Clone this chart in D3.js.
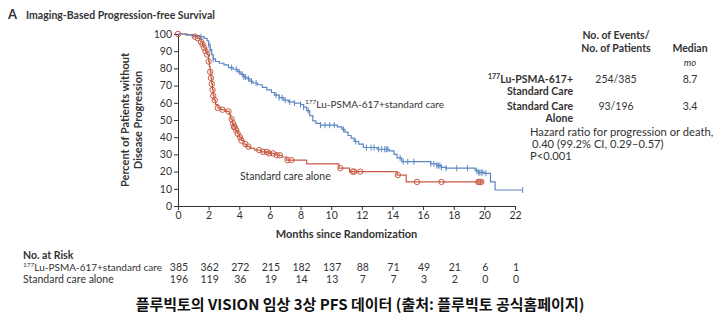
<!DOCTYPE html>
<html>
<head>
<meta charset="utf-8">
<script src="https://cdn.jsdelivr.net/npm/d3@7"></script>
<style>
  html, body { margin: 0; padding: 0; background: #fff; }
  svg { display: block; font-family: Lato, "Noto Sans", sans-serif; }
</style>
</head>
<body>
<div id="chart"></div>
<script>
// Kaplan-Meier step points: time (months) and survival (%)
const luTimes = [0, 0.5, 1.0, 1.4, 1.7, 1.9, 2.0, 2.1, 2.2, 2.3, 2.45, 2.7, 3.0, 3.3, 3.6, 3.9, 4.1, 4.3, 4.5, 4.7, 4.9, 5.2, 5.5, 5.8, 6.1, 6.3, 6.6, 6.9, 7.2, 7.6, 8.0, 8.2, 8.4, 8.6, 8.8, 9.0, 9.3, 10.4, 10.7, 10.9, 11.1, 11.3, 11.5, 11.8, 12.1, 13.0, 13.8, 14.1, 14.3, 14.6, 16.5, 16.9, 17.2, 17.5, 19.4, 19.6, 20.0, 20.4, 20.7, 22.5];
const luSurv  = [100, 99.5, 99, 98.5, 97.5, 96, 94, 91, 88, 85.5, 84, 83, 82, 80.5, 79.5, 78, 76.5, 75, 74, 72.5, 71.5, 70.5, 69, 67.5, 66, 64.5, 63, 61.5, 60.5, 59.8, 59, 57.5, 55.5, 52.5, 49.5, 48, 47, 46, 44.5, 43, 41, 39.5, 37.5, 36, 34, 33, 32, 30, 28, 25.8, 24.5, 23.5, 22.5, 22, 20.5, 19.5, 19, 14, 9.3, 9.3];
const luCensor = [1.5, 2.0, 2.1, 2.3, 3.5, 3.8, 4.0, 4.2, 4.3, 4.4, 4.6, 4.8, 5.1, 6.4, 6.6, 6.8, 7.0, 7.3, 7.6, 8.0, 8.2, 8.5, 9.3, 9.6, 9.9, 10.2, 10.8, 11.6, 12.3, 12.6, 12.8, 13.1, 13.3, 13.5, 13.6, 13.7, 14.5, 14.7, 15.0, 15.4, 16.5, 16.7, 16.9, 17.0, 17.1, 17.2, 17.5, 18.2, 18.9, 19.5, 19.6, 19.7, 19.8, 19.9, 20.1, 22.5];

const scTimes = [0, 0.6, 1.0, 1.3, 1.5, 1.6, 1.7, 1.8, 1.9, 2.0, 2.05, 2.1, 2.15, 2.2, 2.25, 2.3, 2.35, 2.45, 2.6, 2.8, 3.1, 3.35, 3.45, 3.55, 3.65, 3.75, 3.9, 4.0, 4.15, 4.3, 4.45, 4.7, 5.0, 5.4, 5.9, 6.4, 6.8, 7.1, 8.4, 10.5, 11.2, 14.3, 14.9, 19.9];
const scSurv  = [100, 99.5, 98.5, 97.5, 95.5, 94, 92, 90, 88, 84, 81, 78, 74.5, 71, 67.5, 64, 61.5, 59, 57, 56, 55, 53, 50.5, 48, 46, 44, 42, 40, 38, 36, 34.5, 33.5, 32.5, 31.5, 30.6, 29.5, 28.5, 26.7, 24.5, 22, 20, 18, 14, 14];
const scCensor = [0, 1.1, 1.3, 1.5, 1.6, 1.7, 1.8, 1.9, 2.0, 2.1, 2.15, 2.2, 2.25, 2.3, 2.4, 2.6, 2.9, 3.3, 3.5, 3.6, 3.65, 3.7, 3.8, 3.9, 4.05, 4.15, 4.4, 4.6, 5.3, 5.55, 5.8, 5.95, 6.2, 6.45, 6.65, 7.15, 7.4, 10.6, 11.4, 11.5, 11.9, 14.35, 15.6, 17.2, 19.6, 19.7, 19.8];

// Axis ticks and numbers at risk
const monthTicks = [0, 2, 4, 6, 8, 10, 12, 14, 16, 18, 20, 22];
const pctTicks = [0, 10, 20, 30, 40, 50, 60, 70, 80, 90, 100];
const riskLu = [385, 362, 272, 215, 182, 137, 88, 71, 49, 21, 6, 1];
const riskSc = [196, 119, 36, 19, 14, 13, 7, 7, 3, 2, 0, 0];

const blue = "#5b86c4";
const red = "#c85a43";
const ink = "#333";

const width = 720, height = 321;
const svg = d3.select("#chart").append("svg")
  .attr("width", width)
  .attr("height", height);

const x = d3.scaleLinear().domain([0, 22]).range([178, 515]);
const y = d3.scaleLinear().domain([0, 100]).range([206, 34]);

function survAt(times, surv, t) {
  const i = Math.max(0, d3.bisectRight(times, t) - 1);
  return surv[i];
}

// Title
const title = svg.append("text").attr("x", 8).attr("y", 19)
  .attr("font-weight", "bold").attr("fill", ink);
title.append("tspan").attr("font-size", 13).text("A");
title.append("tspan").attr("dx", 9).attr("font-size", 10.5).text("Imaging-Based Progression-free Survival");

// Axes
const yAxis = svg.append("g")
  .attr("transform", `translate(${x(0)},0)`)
  .call(d3.axisLeft(y).tickValues(pctTicks).tickSize(4).tickSizeOuter(0).tickPadding(2));
const xAxis = svg.append("g")
  .attr("transform", `translate(0,${y(0)})`)
  .call(d3.axisBottom(x).tickValues(monthTicks).tickSize(4).tickSizeOuter(0).tickPadding(2));
[yAxis, xAxis].forEach(g => {
  g.selectAll("path, line").attr("stroke", ink);
  g.selectAll("text").attr("font-size", 10.5).attr("fill", ink).attr("font-family", "Lato, sans-serif");
});

svg.append("text")
  .attr("x", (x(0) + x(22)) / 2).attr("y", 238)
  .attr("text-anchor", "middle").attr("font-weight", "bold").attr("font-size", 11).attr("fill", ink)
  .text("Months since Randomization");

const yLab = svg.append("text")
  .attr("transform", `translate(129,${y(50)}) rotate(-90)`)
  .attr("text-anchor", "middle").attr("font-weight", "bold").attr("font-size", 11).attr("fill", ink);
yLab.append("tspan").attr("x", 0).attr("dy", 0).text("Percent of Patients without");
yLab.append("tspan").attr("x", 0).attr("dy", 13).text("Disease Progression");

// Survival curves
const line = d3.line().x(d => x(d[0])).y(d => y(d[1])).curve(d3.curveStepAfter);

svg.append("path").datum(d3.zip(scTimes, scSurv))
  .attr("d", line).attr("fill", "none").attr("stroke", red).attr("stroke-width", 1.2);
svg.append("path").datum(d3.zip(luTimes, luSurv))
  .attr("d", line).attr("fill", "none").attr("stroke", blue).attr("stroke-width", 1.2);

// Censoring marks
svg.append("g").selectAll("circle")
  .data(scCensor).enter().append("circle")
  .attr("cx", d => x(d))
  .attr("cy", d => y(survAt(scTimes, scSurv, d)))
  .attr("r", 2.7)
  .attr("fill", "none").attr("stroke", red).attr("stroke-width", 1);

svg.append("g").selectAll("line")
  .data(luCensor).enter().append("line")
  .attr("x1", d => x(d)).attr("x2", d => x(d))
  .attr("y1", d => y(survAt(luTimes, luSurv, d)) - 3)
  .attr("y2", d => y(survAt(luTimes, luSurv, d)) + 3)
  .attr("stroke", blue).attr("stroke-width", 1);

// Curve labels
const luLab = svg.append("text").attr("x", 305).attr("y", 108).attr("font-size", 10).attr("fill", ink);
luLab.append("tspan").attr("font-size", 6.5).attr("dy", -4).text("177");
luLab.append("tspan").attr("dy", 4).text("Lu-PSMA-617+standard care");

svg.append("text").attr("x", 240).attr("y", 180).attr("font-size", 10.5).attr("fill", ink)
  .text("Standard care alone");

// Summary table
const tbl = svg.append("g").attr("font-size", 10.5).attr("fill", ink);
const colN = 616, colM = 690, rowLab = 573;
tbl.append("text").attr("x", colN).attr("y", 39).attr("text-anchor", "middle").attr("font-weight", "bold").text("No. of Events/");
tbl.append("text").attr("x", colN).attr("y", 52).attr("text-anchor", "middle").attr("font-weight", "bold").text("No. of Patients");
tbl.append("text").attr("x", colM).attr("y", 52).attr("text-anchor", "middle").attr("font-weight", "bold").text("Median");
tbl.append("text").attr("x", colM).attr("y", 66).attr("text-anchor", "middle").attr("font-style", "italic").attr("font-size", 9.5).text("mo");

const r1 = tbl.append("text").attr("x", rowLab).attr("y", 83).attr("text-anchor", "end").attr("font-weight", "bold");
r1.append("tspan").attr("font-size", 7).attr("dy", -4).text("177");
r1.append("tspan").attr("dy", 4).text("Lu-PSMA-617+");
tbl.append("text").attr("x", rowLab).attr("y", 95).attr("text-anchor", "end").attr("font-weight", "bold").text("Standard Care");
tbl.append("text").attr("x", colN).attr("y", 83).attr("text-anchor", "middle").text("254/385");
tbl.append("text").attr("x", colM).attr("y", 83).attr("text-anchor", "middle").text("8.7");

tbl.append("text").attr("x", rowLab).attr("y", 110).attr("text-anchor", "end").attr("font-weight", "bold").text("Standard Care");
tbl.append("text").attr("x", rowLab).attr("y", 122).attr("text-anchor", "end").attr("font-weight", "bold").text("Alone");
tbl.append("text").attr("x", colN).attr("y", 110).attr("text-anchor", "middle").text("93/196");
tbl.append("text").attr("x", colM).attr("y", 110).attr("text-anchor", "middle").text("3.4");

const hz = tbl.append("g").attr("font-size", 11.2);
hz.append("text").attr("x", 530).attr("y", 136).text("Hazard ratio for progression or death,");
hz.append("text").attr("x", 532).attr("y", 148).text("0.40 (99.2% CI, 0.29–0.57)");
hz.append("text").attr("x", 530).attr("y", 160).text("P<0.001");

// Numbers at risk
const risk = svg.append("g").attr("font-size", 10.5).attr("fill", ink);
risk.append("text").attr("x", 23).attr("y", 259).attr("font-weight", "bold").text("No. at Risk");
const rl = risk.append("text").attr("x", 23).attr("y", 271).attr("font-size", 10);
rl.append("tspan").attr("font-size", 6.5).attr("dy", -4).text("177");
rl.append("tspan").attr("dy", 4).text("Lu-PSMA-617+standard care");
risk.append("text").attr("x", 23).attr("y", 283).text("Standard care alone");

risk.selectAll(".lu").data(riskLu).enter().append("text")
  .attr("x", (d, i) => x(monthTicks[i]) + 1).attr("y", 271)
  .attr("text-anchor", "middle").text(d => d);
risk.selectAll(".sc").data(riskSc).enter().append("text")
  .attr("x", (d, i) => x(monthTicks[i]) + 1).attr("y", 283)
  .attr("text-anchor", "middle").text(d => d);

// Caption
svg.append("text")
  .attr("x", 360).attr("y", 310)
  .attr("text-anchor", "middle")
  .attr("font-family", "'Noto Sans CJK KR', sans-serif")
  .attr("font-weight", "bold").attr("font-size", 15).attr("fill", "#111")
  .text("플루빅토의 VISION 임상 3상 PFS 데이터 (출처: 플루빅토 공식홈페이지)");
</script>
</body>
</html>
